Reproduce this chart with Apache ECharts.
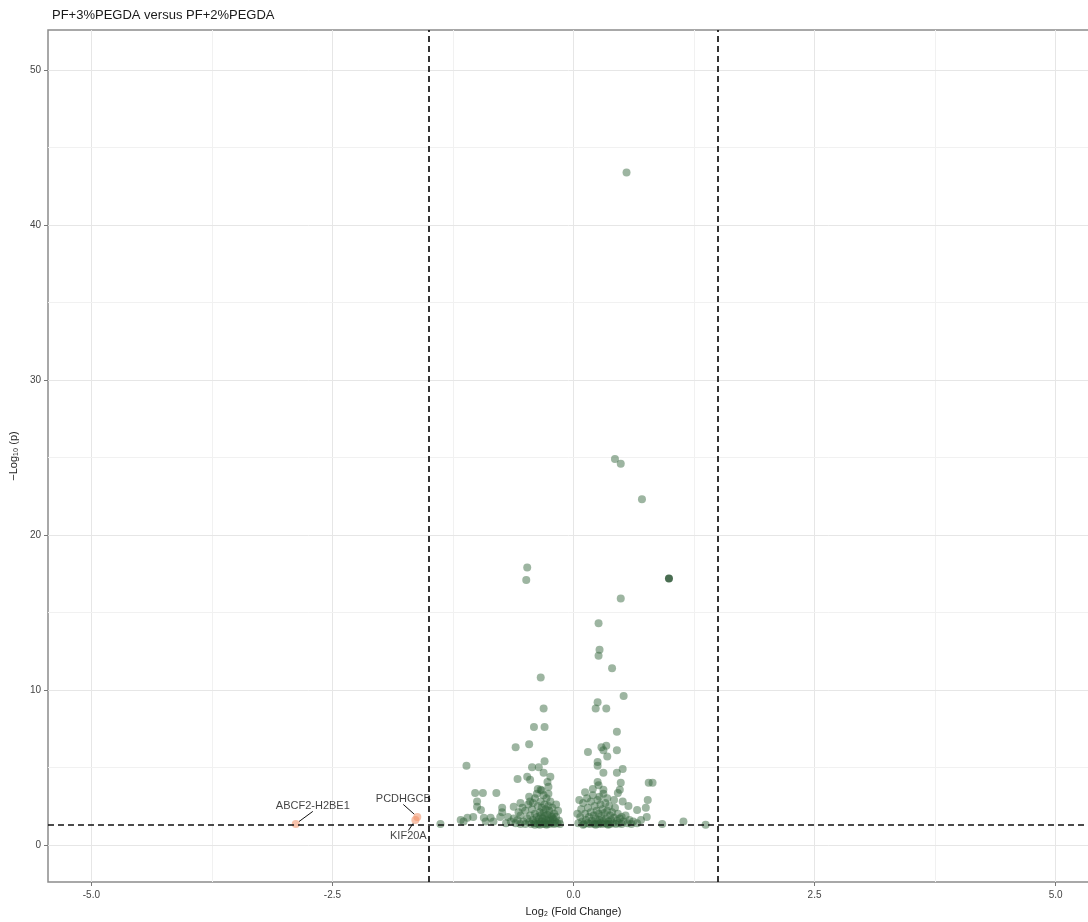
<!DOCTYPE html>
<html>
<head>
<meta charset="utf-8">
<title>PF+3%PEGDA versus PF+2%PEGDA</title>
<script src="https://cdn.jsdelivr.net/npm/echarts@6/dist/echarts.min.js"></script>
<style>
  html, body { margin: 0; padding: 0; background: #ffffff; }
  #chart { width: 1088px; height: 922px; }
</style>
</head>
<body>
<div id="chart"></div>
<script>
// Volcano plot: log2 fold change vs -log10 p-value
const titleText = 'PF+3%PEGDA versus PF+2%PEGDA';
const xTicks = [-5.0, -2.5, 0.0, 2.5, 5.0];
const yTicks = [0, 10, 20, 30, 40, 50];
const xGrid = [-5, -3.75, -2.5, -1.25, 0, 1.25, 2.5, 3.75, 5];
const yGrid = [0, 5, 10, 15, 20, 25, 30, 35, 40, 45, 50];
const fcCut = 1.5;
const pCut = 1.30103; // -log10(0.05)

// genes with p < 0.05 and |log2FC| < 1.5
const sigGenes = [
  [0.55,43.4],[0.43,24.9],[0.49,24.6],[0.71,22.3],[-0.48,17.9],[-0.49,17.1],[0.49,15.9],
  [0.26,14.3],[0.27,12.6],[0.26,12.2],[0.40,11.4],[-0.34,10.8],[0.52,9.6],[0.25,9.2],
  [0.23,8.8],[0.34,8.8],[-0.31,8.8],[-0.41,7.6],[-0.30,7.6],[0.45,7.3],
  [0.15,6.0],[0.29,6.3],[0.34,6.4],[0.31,6.1],[0.45,6.1],[0.35,5.7],[0.25,5.35],[0.25,5.1],
  [0.51,4.9],[0.31,4.65],[0.45,4.65],[0.78,4.0],[0.82,4.0],[0.25,4.05],[0.26,3.85],
  [0.31,3.55],[0.49,4.0],[0.48,3.55],[0.46,3.35],[0.51,2.8],[0.57,2.5],[0.66,2.25],
  [0.77,2.9],[0.75,2.4],[0.76,1.8],[0.92,1.35],[1.14,1.5],[1.37,1.3],
  [-0.60,6.3],[-0.46,6.5],[-1.11,5.1],[-0.30,5.4],[-0.43,5.0],[-0.36,5.0],[-0.58,4.25],
  [-0.48,4.4],[-0.45,4.2],[-0.31,4.65],[-0.24,4.4],[-0.27,4.05],[-0.37,3.6],[-0.34,3.55],
  [-0.26,3.75],[-1.02,3.35],[-0.94,3.35],[-0.80,3.35],[-1.0,2.8],[-1.0,2.45],[-0.96,2.25],
  [-0.74,2.4],[-0.74,2.1],[-0.62,2.45],[-0.55,2.7],[-0.45,2.8],[-1.38,1.35],[-1.17,1.6],
  [-1.14,1.5],[-1.10,1.75],[-1.04,1.8],[-0.93,1.75],[-0.91,1.5],[-0.86,1.75],[-0.83,1.5],
  [-0.76,1.8],
  [-0.6,1.4],[-0.58,1.6],[-0.55,1.35],[-0.55,1.9],[-0.52,1.5],[-0.5,2.2],[-0.5,1.35],
  [-0.48,1.7],[-0.47,2.6],[-0.46,1.45],[-0.45,1.9],[-0.44,1.35],[-0.43,2.3],[-0.42,1.6],
  [-0.41,1.4],[-0.4,3.0],[-0.4,2.0],[-0.39,1.5],[-0.38,1.8],[-0.37,2.5],[-0.37,1.35],
  [-0.36,1.65],[-0.35,2.1],[-0.35,1.4],[-0.34,2.8],[-0.34,1.9],[-0.33,1.5],[-0.33,2.4],
  [-0.32,1.35],[-0.32,1.7],[-0.31,3.2],[-0.31,2.1],[-0.3,1.45],[-0.3,2.6],[-0.3,1.85],
  [-0.29,1.35],[-0.29,2.3],[-0.28,1.6],[-0.28,3.0],[-0.27,1.95],[-0.27,1.4],[-0.26,2.5],
  [-0.26,1.7],[-0.25,1.35],[-0.25,2.2],[-0.24,1.55],[-0.24,2.8],[-0.23,1.9],[-0.22,1.4],
  [-0.22,2.4],[-0.21,1.65],[-0.2,1.35],[-0.2,2.0],[-0.19,1.5],[-0.18,2.6],[-0.18,1.8],
  [-0.17,1.4],[-0.16,2.2],[-0.15,1.55],[-0.14,1.35],[-0.42,2.7],[-0.38,3.3],[-0.46,3.1],
  [-0.53,2.4],[-0.57,2.1],[-0.65,1.5],[-0.68,1.8],[-0.7,1.4],[-0.62,1.7],[-0.35,1.3],
  [-0.28,1.3],[-0.4,1.3],[-0.22,1.8],[-0.33,3.5],[-0.26,3.3],
  [0.05,1.4],[0.07,1.8],[0.08,2.3],[0.09,1.5],[0.1,2.7],[0.11,1.35],[0.12,2.0],[0.13,1.6],
  [0.14,3.0],[0.15,1.4],[0.15,2.4],[0.16,1.8],[0.17,1.35],[0.18,2.1],[0.18,2.8],[0.19,1.55],
  [0.2,1.4],[0.2,3.2],[0.21,1.9],[0.22,2.5],[0.22,1.35],[0.23,1.7],[0.24,2.2],[0.25,1.45],
  [0.25,2.9],[0.26,1.35],[0.26,2.0],[0.27,1.6],[0.28,2.6],[0.28,1.4],[0.29,1.85],[0.3,1.35],
  [0.3,2.3],[0.31,1.55],[0.31,3.3],[0.32,2.05],[0.33,1.4],[0.33,2.7],[0.34,1.7],[0.35,1.35],
  [0.35,2.2],[0.36,1.5],[0.37,2.5],[0.38,1.9],[0.38,1.35],[0.39,1.6],[0.4,2.1],[0.41,1.4],
  [0.42,1.75],[0.43,2.4],[0.44,1.35],[0.45,1.55],[0.46,2.0],[0.47,1.4],[0.48,1.7],[0.5,1.35],
  [0.52,1.5],[0.54,1.9],[0.56,1.4],[0.58,1.6],[0.6,1.35],[0.62,1.5],[0.66,1.4],[0.7,1.6],
  [0.04,2.0],[0.06,2.9],[0.12,3.4],[0.2,3.6],[0.27,3.1],[0.35,3.0],[0.42,2.9],[0.1,1.3],
  [0.23,1.3],[0.36,1.3],[0.5,1.8]
];
// overlapping hits drawn darker
const stackedGenes = [[0.99, 17.2]];

// genes passing both cut-offs
const hitNames = ['ABCF2-H2BE1', 'PCDHGCB', 'KIF20A'];
const hitFC = [-2.88, -1.62, -1.64];
const hitP = [1.35, 1.8, 1.6];
const hitLabelShift = [[17, -18], [-14, -18], [-7, 16]];

const chart = echarts.init(document.getElementById('chart'), null, { renderer: 'canvas' });

const gridLines = [];
xGrid.forEach(v => gridLines.push({ xAxis: v, lineStyle: { color: Number.isInteger(v / 2.5) ? '#e6e6e6' : '#f1f1f1', width: 1, type: 'solid' } }));
yGrid.forEach(v => gridLines.push({ yAxis: v, lineStyle: { color: v % 10 === 0 ? '#e6e6e6' : '#f1f1f1', width: 1, type: 'solid' } }));

const font = 'Liberation Sans, Arial, Helvetica, sans-serif';

chart.setOption({
  animation: false,
  backgroundColor: '#ffffff',
  title: {
    text: titleText,
    left: 47, top: 4,
    textStyle: { fontFamily: font, fontSize: 13, fontWeight: 'normal', color: '#1a1a1a' }
  },
  grid: {
    left: 48, top: 30, right: -11, bottom: 40,
    containLabel: false,
    outerBoundsMode: 'none',
    show: true,
    borderColor: '#8c8c8c', borderWidth: 1.5,
    backgroundColor: 'transparent'
  },
  xAxis: {
    type: 'value', min: -5.45, max: 5.45,
    name: 'Log₂ (Fold Change)', nameLocation: 'middle', nameGap: 24,
    nameTextStyle: { fontFamily: font, fontSize: 11, color: '#222' },
    axisLine: { show: false, onZero: false },
    axisTick: { show: true, length: 4, customValues: xTicks, lineStyle: { color: '#777' } },
    axisLabel: { customValues: xTicks, margin: 8, fontFamily: font, fontSize: 10, color: '#444',
      formatter: v => v.toFixed(1) },
    splitLine: { show: false }
  },
  yAxis: {
    type: 'value', min: -2.4, max: 52.6,
    name: '−Log₁₀ (p)', nameLocation: 'middle', nameGap: 18, nameRotate: 90,
    nameTextStyle: { fontFamily: font, fontSize: 11, color: '#222' },
    axisLine: { show: false, onZero: false },
    axisTick: { show: true, length: 4, customValues: yTicks, lineStyle: { color: '#777' } },
    axisLabel: { customValues: yTicks, margin: 7, fontFamily: font, fontSize: 10, color: '#444' },
    splitLine: { show: false }
  },
  series: [
    {
      name: 'grid', type: 'scatter', data: [], silent: true, z: 0,
      markLine: { silent: true, z: 0, symbol: 'none', label: { show: false }, animation: false, data: gridLines }
    },
    {
      name: 'cutoffs', type: 'scatter', data: [], silent: true, z: 1,
      markLine: {
        silent: true, z: 5, symbol: 'none', label: { show: false }, animation: false,
        lineStyle: { color: '#111', width: 1.7, type: [6, 4] },
        data: [{ xAxis: -fcCut }, { xAxis: fcCut }, { yAxis: pCut }]
      }
    },
    {
      name: 'p-value', type: 'scatter', z: 3,
      data: sigGenes, symbolSize: 8,
      itemStyle: { color: 'rgba(50,100,58,0.6)' }
    },
    {
      name: 'p-value stacked', type: 'scatter', z: 3,
      data: stackedGenes, symbolSize: 8,
      itemStyle: { color: 'rgba(28,72,38,1)' }
    },
    {
      name: 'p-value and log2FC', type: 'scatter', z: 4,
      data: hitNames.map((n, i) => ({ name: n, value: [hitFC[i], hitP[i]] })),
      symbolSize: 8,
      itemStyle: { color: 'rgba(240,138,93,0.65)' },
      label: {
        show: true, position: 'inside', formatter: p => p.name,
        fontFamily: font, fontSize: 11, color: '#111'
      },
      labelLayout: p => ({ dx: hitLabelShift[p.dataIndex][0], dy: hitLabelShift[p.dataIndex][1] }),
      labelLine: { show: true, lineStyle: { color: '#111', width: 1 } }
    }
  ]
});
</script>
</body>
</html>
